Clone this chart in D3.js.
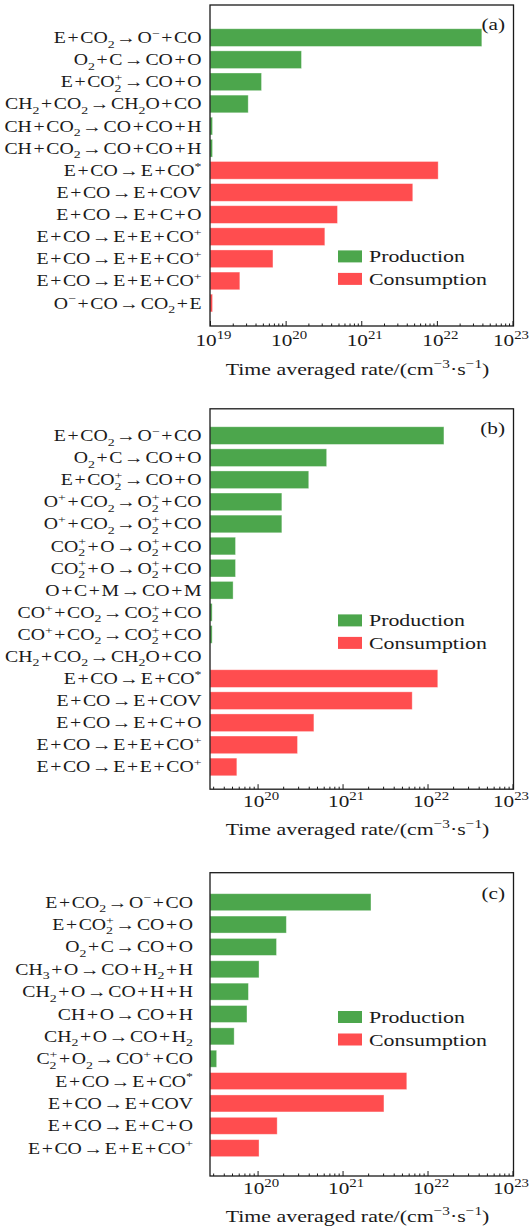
<!DOCTYPE html>
<html>
<head>
<meta charset="utf-8">
<script src="https://cdn.jsdelivr.net/npm/d3@7"></script>
<style>
body { margin: 0; background: #fff; }
text { font-family: "Liberation Serif", "DejaVu Serif", serif; fill: #1a1a1a; }
</style>
</head>
<body>
<script>
const width = 531;
const height = 1229;

// panel (a)
const prodLabelsA = ["E+CO_2→O^−+CO", "O_2+C→CO+O", "E+CO_2^+→CO+O", "CH_2+CO_2→CH_2O+CO",
    "CH+CO_2→CO+CO+H", "CH+CO_2→CO+CO+H"];
const prodRatesA = [3.93e22, 1.62e20, 4.8e19, 3.2e19, 1.08e19, 1.08e19];
const consLabelsA = ["E+CO→E+CO^*", "E+CO→E+COV", "E+CO→E+C+O", "E+CO→E+E+CO^+",
    "E+CO→E+E+CO^+", "E+CO→E+E+CO^+", "O^−+CO→CO_2+E"];
const consRatesA = [1.04e22, 4.8e21, 4.85e20, 3.3e20, 6.8e19, 2.48e19, 1.08e19];

// panel (b)
const prodLabelsB = ["E+CO_2→O^−+CO", "O_2+C→CO+O", "E+CO_2^+→CO+O", "O^++CO_2→O_2^++CO",
    "O^++CO_2→O_2^++CO", "CO_2^++O→O_2^++CO", "CO_2^++O→O_2^++CO", "O+C+M→CO+M",
    "CO^++CO_2→CO_2^++CO", "CO^++CO_2→CO_2^++CO", "CH_2+CO_2→CH_2O+CO"];
const prodRatesB = [1.56e22, 6.5e20, 4.0e20, 1.93e20, 1.93e20, 5.5e19, 5.5e19, 5.15e19, 2.92e19, 2.92e19, 2.75e19];
const consLabelsB = ["E+CO→E+CO^*", "E+CO→E+COV", "E+CO→E+C+O", "E+CO→E+E+CO^+", "E+CO→E+E+CO^+"];
const consRatesB = [1.32e22, 6.6e21, 4.6e20, 2.95e20, 5.7e19];

// panel (c)
const prodLabelsC = ["E+CO_2→O^−+CO", "E+CO_2^+→CO+O", "O_2+C→CO+O", "CH_3+O→CO+H_2+H",
    "CH_2+O→CO+H+H", "CH+O→CO+H", "CH_2+O→CO+H_2", "C_2^++O_2→CO^++CO"];
const prodRatesC = [2.16e21, 2.18e20, 1.67e20, 1.04e20, 7.8e19, 7.5e19, 5.3e19, 3.3e19];
const consLabelsC = ["E+CO→E+CO^*", "E+CO→E+COV", "E+CO→E+C+O", "E+CO→E+E+CO^+"];
const consRatesC = [5.7e21, 3.07e21, 1.7e20, 1.04e20];

const majorTicks = [1e19, 1e20, 1e21, 1e22, 1e23];
const seriesNames = ["Production", "Consumption"];
const colors = ["#4ca64c", "#ff4d4f"];
const axisTitle = "Time averaged rate/(cm^{−3}·s^{−1})";

const sx = 1.25; // text in the figure is stretched horizontally

const panels = [
    {tag: "(a)", prod: [prodLabelsA, prodRatesA], cons: [consLabelsA, consRatesA],
     top: 5, bottom: 326, firstCenter: 37.6, step: 22.12, pad: 0.2, xmin: 1e19,
     labelRight: 201.5, legendTop: 250.4, tagY: 30, tickY: 346, titleY: 375},
    {tag: "(b)", prod: [prodLabelsB, prodRatesB], cons: [consLabelsB, consRatesB],
     top: 408.8, bottom: 789.2, firstCenter: 435.6, step: 22.09, pad: 0.2, xmin: Math.pow(10, 19.44),
     labelRight: 201.5, legendTop: 614.4, tagY: 434, tickY: 806.5, titleY: 834.5},
    {tag: "(c)", prod: [prodLabelsC, prodRatesC], cons: [consLabelsC, consRatesC],
     top: 872.7, bottom: 1176, firstCenter: 902.2, step: 22.36, pad: 0.24, xmin: Math.pow(10, 19.44),
     labelRight: 193, legendTop: 1011, tagY: 899, tickY: 1193.5, titleY: 1222}
];

const svg = d3.select('body').append('svg')
    .attr('width', width)
    .attr('height', height);

function parseMath(str) {
    const segs = [];
    const readArg = i => {
        if (str[i] === '{') {
            const j = str.indexOf('}', i);
            return [str.slice(i + 1, j), j];
        }
        return [str[i], i];
    };
    for (let i = 0; i < str.length; i++) {
        const c = str[i];
        const prev = segs[segs.length - 1];
        if (c === '_' || c === '^') {
            const [t, j] = readArg(i + 1);
            i = j;
            segs.push({t: t, type: c === '_' ? 'sub' : 'sup', stacked: c === '^' && prev && prev.type === 'sub'});
        } else {
            const op = c === '+' || c === '→';
            if (prev && prev.type === 'n' && !prev.op && !op) prev.t += c;
            else segs.push({t: c, type: 'n', op: op});
        }
    }
    return segs;
}

// writes a label with sub/superscripts into a text element
function drawMath(textSel, str, fs, gap) {
    let level = 0, pendingDx = 0, subWidth = 0;
    parseMath(str).forEach(s => {
        const target = s.type === 'sub' ? fs * 0.28 : s.type === 'sup' ? -fs * 0.4 : 0;
        const ts = textSel.append('tspan')
            .text(s.t)
            .attr('font-size', s.type === 'n' ? fs : fs * 0.7);
        if (target !== level) ts.attr('dy', target - level);
        let dx = pendingDx;
        pendingDx = 0;
        if (s.op) { dx += gap; pendingDx = gap; }
        if (s.stacked) dx -= subWidth;
        if (dx) ts.attr('dx', dx);
        if (s.type === 'sub') subWidth = ts.node().getComputedTextLength();
        level = target;
    });
}

function stretchedText(x, y, anchor) {
    return svg.append('g')
        .attr('transform', `translate(${x}, ${y}) scale(${sx}, 1)`)
        .append('text')
        .attr('text-anchor', anchor);
}

panels.forEach(p => drawPanel(p));

function drawPanel(p) {
    const labels = p.prod[0].concat(p.cons[0]);
    const rates = p.prod[1].concat(p.cons[1]);
    const kinds = p.prod[0].map(() => 0).concat(p.cons[0].map(() => 1));
    const n = labels.length;

    const xScale = d3.scaleLog()
        .domain([p.xmin, 1e23])
        .range([210, 512.5]);

    const y0 = p.firstCenter - p.step / 2;
    const yScale = d3.scaleBand()
        .domain(d3.range(n))
        .range([y0, y0 + n * p.step])
        .paddingInner(p.pad)
        .paddingOuter(p.pad / 2);

    svg.append('g')
        .selectAll('rect')
        .data(rates)
        .join('rect')
        .attr('x', xScale(p.xmin))
        .attr('y', (d, i) => yScale(i))
        .attr('width', d => Math.max(0, xScale(d) - xScale(p.xmin)))
        .attr('height', yScale.bandwidth())
        .attr('fill', (d, i) => colors[kinds[i]])
        .attr('stroke', 'rgba(255,255,255,0.45)')
        .attr('stroke-width', 0.8);

    labels.forEach((lab, i) => {
        const t = stretchedText(p.labelRight, yScale(i) + yScale.bandwidth() / 2 + 5.5, 'end');
        drawMath(t, lab, 15.8, 1.3);
    });

    // ticks pointing inward
    const majors = majorTicks.filter(v => v >= p.xmin);
    const minors = [];
    for (let e = 19; e < 23; e++) {
        for (let m = 2; m < 10; m++) {
            const v = m * Math.pow(10, e);
            if (v >= p.xmin) minors.push(v);
        }
    }
    const xAxis = d3.axisBottom(xScale).tickValues(majors).tickSize(-5).tickFormat('');
    const xMinor = d3.axisBottom(xScale).tickValues(minors).tickSize(-2.5).tickFormat('');
    [xAxis, xMinor].forEach(ax => {
        const g = svg.append('g')
            .attr('transform', `translate(0, ${p.bottom})`)
            .call(ax);
        g.select('.domain').remove();
        g.selectAll('line').attr('stroke', '#1a1a1a').attr('stroke-width', 1);
    });

    majors.forEach(v => {
        const t = stretchedText(Math.min(xScale(v) + 3.5, 511), p.tickY, 'middle');
        drawMath(t, `10^{${Math.round(Math.log10(v))}}`, 17, 0);
    });

    // frame
    svg.append('rect')
        .attr('x', 210)
        .attr('y', p.top)
        .attr('width', 303.5)
        .attr('height', p.bottom - p.top)
        .attr('fill', 'none')
        .attr('stroke', '#1a1a1a')
        .attr('stroke-width', 1.3);

    const title = stretchedText(357.5, p.titleY, 'middle');
    drawMath(title, axisTitle, 17.5, 0);

    stretchedText(505, p.tagY, 'end')
        .attr('font-size', 17)
        .text(p.tag);

    seriesNames.forEach((name, i) => {
        const top = p.legendTop + i * 22.5;
        svg.append('rect')
            .attr('x', 338)
            .attr('y', top)
            .attr('width', 24)
            .attr('height', 12)
            .attr('fill', colors[i]);
        stretchedText(369, top + 12, 'start')
            .attr('font-size', 17.5)
            .text(name);
    });
}
</script>
</body>
</html>
